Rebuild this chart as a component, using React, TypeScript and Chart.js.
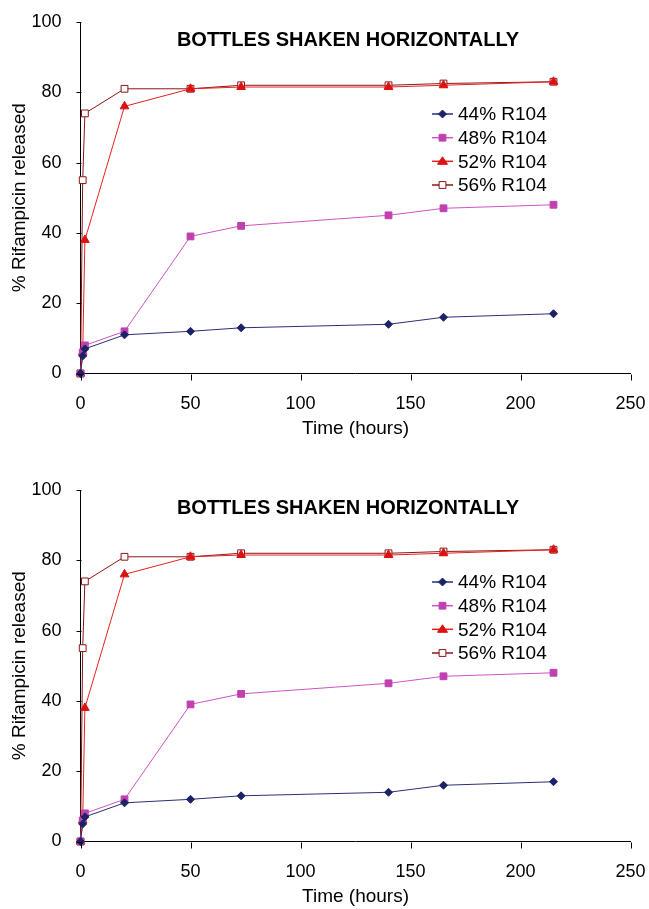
import React, { useEffect, useRef } from "react";
import { Chart, registerables } from "chart.js";

Chart.register(...registerables);

const timeHours = [0, 1, 2, 20, 50, 73, 140, 165, 215];
const r104_44 = [0, 5, 7, 11, 12, 13, 14, 16, 17];
const r104_48 = [0, 6, 8, 12, 39, 42, 45, 47, 48];
const r104_52 = [0, 6, 38, 76, 81, 81.5, 81.5, 82, 83];
const r104_56 = [0, 55, 74, 81, 81, 82, 82, 82.5, 83];
const seriesLabels = ["44% R104", "48% R104", "52% R104", "56% R104"];
const yTicks = [0, 20, 40, 60, 80, 100];
const xTicks = [0, 50, 100, 150, 200, 250];
const chartTitle = "BOTTLES SHAKEN HORIZONTALLY";
const xTitle = "Time (hours)";
const yTitle = "% Rifampicin released";

const FONT = "'Liberation Sans', Arial, sans-serif";

const toPoints = (ys: number[]) => ys.map((y, i) => ({ x: timeHours[i], y }));

function drawMarker(ctx: CanvasRenderingContext2D, ds: any, x: number, y: number) {
  ctx.save();
  ctx.fillStyle = ds.pointBackgroundColor;
  ctx.strokeStyle = ds.pointBorderColor;
  ctx.lineWidth = ds.pointBorderWidth;
  const r = ds.pointRadius;
  ctx.beginPath();
  if (ds.pointStyle === "rectRot") {
    ctx.moveTo(x - r, y);
    ctx.lineTo(x, y - r);
    ctx.lineTo(x + r, y);
    ctx.lineTo(x, y + r);
    ctx.closePath();
  } else if (ds.pointStyle === "triangle") {
    ctx.moveTo(x - r, y + r * 0.6);
    ctx.lineTo(x + r, y + r * 0.6);
    ctx.lineTo(x, y - r * 0.9);
    ctx.closePath();
  } else {
    const s = r * Math.SQRT1_2;
    ctx.rect(x - s, y - s, 2 * s, 2 * s);
  }
  ctx.fill();
  ctx.stroke();
  ctx.restore();
}

const overlayPlugin = {
  id: "overlay",
  afterDraw(chart: any) {
    const ctx = chart.ctx as CanvasRenderingContext2D;
    const xs = chart.scales.x;
    const ys = chart.scales.y;
    ctx.save();
    // tick marks (outside the axes)
    ctx.strokeStyle = "#000000";
    ctx.lineWidth = 1;
    const by = Math.round(ys.getPixelForValue(0)) + 0.5;
    const lx = Math.round(xs.getPixelForValue(0)) + 0.5;
    ctx.beginPath();
    for (const v of xTicks) {
      const px = Math.round(xs.getPixelForValue(v)) + 0.5;
      ctx.moveTo(px, by);
      ctx.lineTo(px, by + 6);
    }
    for (const v of yTicks) {
      const py = Math.round(ys.getPixelForValue(v)) + 0.5;
      ctx.moveTo(lx, py);
      ctx.lineTo(lx - 5, py);
    }
    ctx.stroke();

    ctx.fillStyle = "#000";
    ctx.font = `bold 20px ${FONT}`;
    ctx.textAlign = "center";
    ctx.textBaseline = "middle";
    ctx.fillText(chartTitle, 348, 40);
    // legend
    ctx.font = `19px ${FONT}`;
    ctx.textAlign = "left";
    const x0 = 432;
    const rowY = [114, 137.7, 161.3, 185];
    chart.data.datasets.forEach((ds: any, i: number) => {
      const y = rowY[i];
      ctx.strokeStyle = ds.borderColor;
      ctx.lineWidth = 1.5;
      ctx.beginPath();
      ctx.moveTo(x0, y);
      ctx.lineTo(x0 + 21, y);
      ctx.stroke();
      drawMarker(ctx, ds, x0 + 10.5, y);
      ctx.fillStyle = "#000";
      ctx.fillText(ds.label, x0 + 26, y + 1);
    });
    ctx.restore();
  },
};

function makeConfig(): any {
  const common = { borderWidth: 1, pointBorderWidth: 1, clip: false as any, tension: 0 };
  return {
    type: "line",
    data: {
      datasets: [
        {
          label: seriesLabels[0],
          data: toPoints(r104_44),
          borderColor: "#2a2f72",
          pointBackgroundColor: "#1c2266",
          pointBorderColor: "#1c2266",
          pointStyle: "rectRot",
          pointRadius: 4,
          ...common,
        },
        {
          label: seriesLabels[1],
          data: toPoints(r104_48),
          borderColor: "#cc55c0",
          pointBackgroundColor: "#c040b0",
          pointBorderColor: "#c040b0",
          pointStyle: "rect",
          pointRadius: 4.8,
          ...common,
        },
        {
          label: seriesLabels[2],
          data: toPoints(r104_52),
          borderColor: "#e42222",
          pointBackgroundColor: "#dd1111",
          pointBorderColor: "#dd1111",
          pointStyle: "triangle",
          pointRadius: 5,
          ...common,
        },
        {
          label: seriesLabels[3],
          data: toPoints(r104_56),
          borderColor: "#8c1414",
          pointBackgroundColor: "#ffffff",
          pointBorderColor: "#8c1414",
          pointStyle: "rect",
          pointRadius: 4.8,
          ...common,
        },
      ],
    },
    options: {
      animation: false,
      responsive: false,
      maintainAspectRatio: false,
      layout: { padding: { top: 22, right: 18.5, left: 0, bottom: 0 } },
      plugins: { legend: { display: false }, title: { display: false }, tooltip: { enabled: false } },
      scales: {
        x: {
          type: "linear",
          min: 0,
          max: 250,
          afterBuildTicks: (s: any) => {
            s.ticks = xTicks.map((v) => ({ value: v }));
          },
          afterFit: (s: any) => {
            s.height = 66.5;
            s.paddingLeft = 0;
            s.paddingRight = 0;
          },
          grid: { display: false, drawOnChartArea: false, tickLength: 6 },
          border: { display: true, color: "#000", width: 1 },
          ticks: { color: "#000", font: { family: FONT, size: 18 }, padding: 14, maxRotation: 0 },
          title: {
            display: true,
            text: xTitle,
            color: "#000",
            font: { family: FONT, size: 19 },
            padding: { top: 0, bottom: 0 },
          },
        },
        y: {
          type: "linear",
          min: 0,
          max: 100,
          afterBuildTicks: (s: any) => {
            s.ticks = yTicks.map((v) => ({ value: v }));
          },
          afterFit: (s: any) => {
            s.width = 80.5;
            s.paddingTop = 0;
            s.paddingBottom = 0;
          },
          grid: { display: false, drawOnChartArea: false, tickLength: 4 },
          border: { display: true, color: "#000", width: 1 },
          ticks: { color: "#000", font: { family: FONT, size: 18 }, padding: 15 },
          title: {
            display: true,
            text: yTitle,
            color: "#000",
            font: { family: FONT, size: 19 },
            padding: { top: 8, bottom: 0 },
          },
        },
      },
    },
    plugins: [overlayPlugin],
  };
}

function ChartPanel({ top }: { top: number }) {
  const ref = useRef<HTMLCanvasElement | null>(null);
  useEffect(() => {
    if (!ref.current) return;
    const chart = new Chart(ref.current, makeConfig());
    return () => chart.destroy();
  }, []);
  return (
    <canvas
      ref={ref}
      width={649}
      height={440}
      style={{ position: "absolute", left: 0, top, width: 649, height: 440, display: "block" }}
    />
  );
}

export default function App() {
  return (
    <div style={{ position: "absolute", left: 0, top: 0, width: 649, height: 909, background: "#fff" }}>
      <ChartPanel top={0} />
      <ChartPanel top={468} />
    </div>
  );
}
